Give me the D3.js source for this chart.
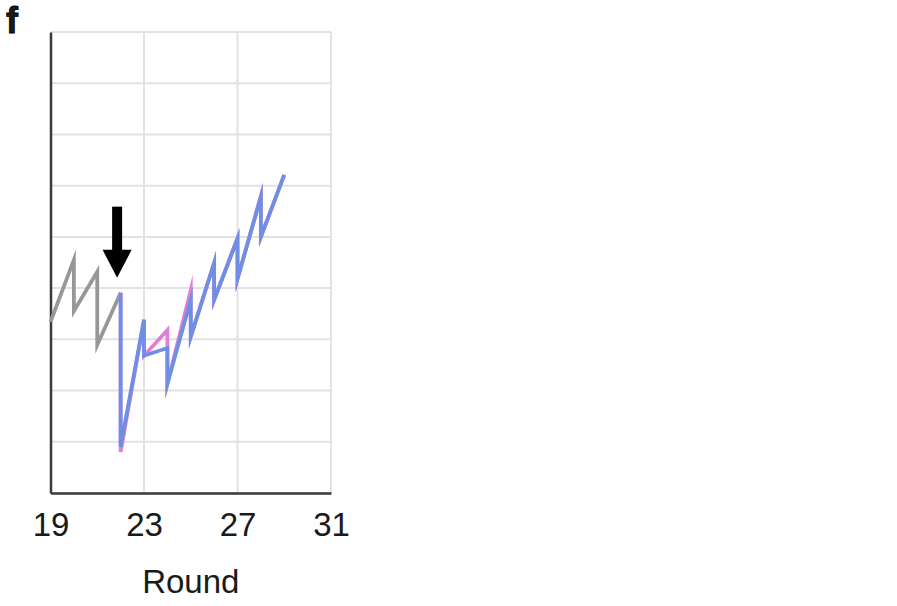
<!DOCTYPE html>
<html>
<head>
<meta charset="utf-8">
<script src="https://cdn.jsdelivr.net/npm/d3@7"></script>
<style>
  html, body { margin: 0; padding: 0; background: #fff; }
  svg { display: block; }
  text { font-family: "Liberation Sans", Arial, Helvetica, sans-serif; fill: #1a1a1a; }
</style>
</head>
<body>
<svg id="chart" width="897" height="606"></svg>
<script>
// Rounds on the x axis; each round has an end-of-round value and a start-of-next value
const xTicks = [19, 23, 27, 31];
const yGrid = [0, 1, 2, 3, 4, 5, 6, 7, 8, 9];

// Baseline (before the switch)
const grayRounds = [19, 20, 20, 21, 21, 22];
const grayValues = [3.34, 4.55, 3.55, 4.32, 2.89, 3.91];

// Condition A (pink)
const pinkRounds = [22, 22, 23, 23, 24, 24, 25, 25, 26, 26, 27, 27, 28, 28, 29];
const pinkValues = [3.91, 0.80, 3.38, 2.68, 3.18, 2.13, 3.96, 3.05, 4.49, 3.77, 4.98, 4.18, 5.80, 5.00, 6.21];

// Condition B (blue)
const blueRounds = [22, 22, 23, 23, 24, 24, 25, 25, 26, 26, 27, 27, 28, 28, 29];
const blueValues = [3.91, 0.90, 3.38, 2.68, 2.83, 2.13, 3.77, 3.05, 4.49, 3.77, 4.96, 4.18, 5.78, 5.00, 6.21];

// Arrow marking the switch point
const arrowRound = 21.85;
const arrowTop = 5.59;
const arrowTip = 4.20;

const svg = d3.select("#chart");
const x = d3.scaleLinear().domain([19, 31]).range([50.5, 331]);
const y = d3.scaleLinear().domain([0, 9]).range([493, 32]);

// grid
const grid = svg.append("g");
grid.selectAll("line.h").data(yGrid).join("line")
  .attr("x1", x(19)).attr("x2", x(31))
  .attr("y1", d => y(d)).attr("y2", d => y(d))
  .attr("stroke", "#e2e2e2").attr("stroke-width", 2);
grid.selectAll("line.v").data(xTicks.slice(1)).join("line")
  .attr("x1", d => x(d)).attr("x2", d => x(d))
  .attr("y1", y(0)).attr("y2", y(9))
  .attr("stroke", "#e2e2e2").attr("stroke-width", 2);

// axes
const xAxis = d3.axisBottom(x).tickValues(xTicks).tickSize(0).tickPadding(20).tickFormat(d3.format("d"));
const gx = svg.append("g").attr("transform", `translate(0,${y(0)})`).call(xAxis);
gx.select(".domain").attr("stroke", "#3a3a3a").attr("stroke-width", 2.5);
gx.selectAll("text").attr("font-size", 33).attr("fill", "#1a1a1a")
  .attr("font-family", "\"Liberation Sans\", Arial, sans-serif");

const yAxis = d3.axisLeft(y).tickValues([]).tickSize(0);
const gy = svg.append("g").attr("transform", `translate(${x(19)},0)`).call(yAxis);
gy.select(".domain").attr("stroke", "#3a3a3a").attr("stroke-width", 2.5);

svg.append("text")
  .attr("x", (x(19) + x(31)) / 2).attr("y", 593)
  .attr("text-anchor", "middle").attr("font-size", 33)
  .text("Round");

// panel letter
svg.append("text")
  .attr("x", 6).attr("y", 33)
  .attr("font-size", 36).attr("font-weight", "bold")
  .attr("fill", "#000").attr("stroke", "#000").attr("stroke-width", 0.8)
  .text("f");

// series
const line = d3.line().x(d => x(d[0])).y(d => y(d[1]));
const series = [
  { rounds: grayRounds, values: grayValues, color: "#979797" },
  { rounds: pinkRounds, values: pinkValues, color: "#e07fd6" },
  { rounds: blueRounds, values: blueValues, color: "#6f8fe4" }
];
svg.append("g").selectAll("path").data(series).join("path")
  .attr("d", s => line(s.rounds.map((r, i) => [r, s.values[i]])))
  .attr("fill", "none")
  .attr("stroke", s => s.color)
  .attr("stroke-width", 3.8)
  .attr("stroke-linejoin", "miter")
  .attr("stroke-miterlimit", 10);

// arrow
const ax = x(arrowRound);
const headTop = y(arrowTip) - 28;
svg.append("rect")
  .attr("x", ax - 5).attr("y", y(arrowTop))
  .attr("width", 10).attr("height", headTop - y(arrowTop) + 1)
  .attr("fill", "#000");
svg.append("path")
  .attr("d", `M${ax - 14.5},${headTop} L${ax + 14.5},${headTop} L${ax},${y(arrowTip)} Z`)
  .attr("fill", "#000");
</script>
</body>
</html>
